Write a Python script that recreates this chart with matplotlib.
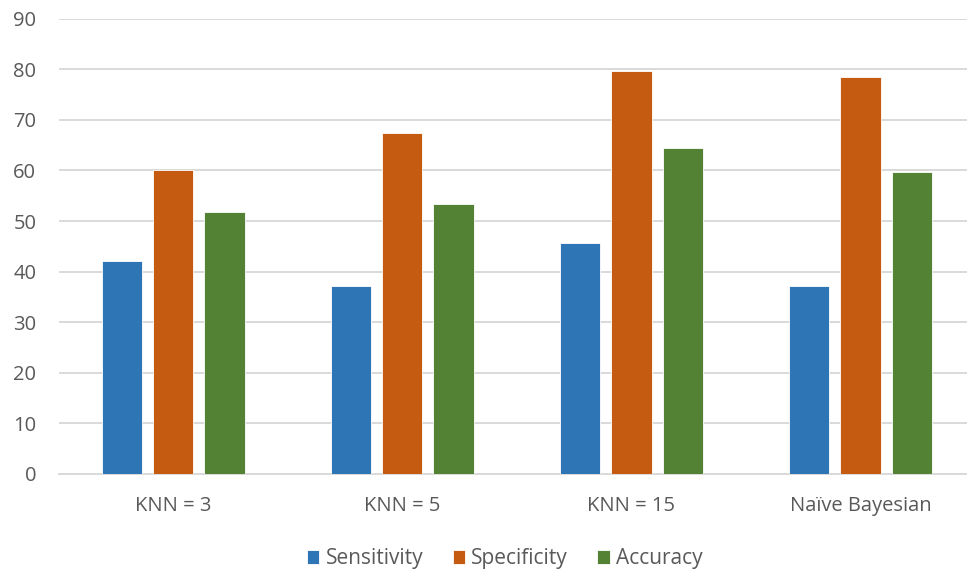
import numpy as np
import matplotlib
matplotlib.use("Agg")
import matplotlib.pyplot as plt

categories = ["KNN = 3", "KNN = 5", "KNN = 15", "Naïve Bayesian"]
sensitivity = [42.1, 37.2, 45.7, 37.2]
specificity = [60.1, 67.4, 79.6, 78.5]
accuracy = [51.7, 53.3, 64.5, 59.6]

series = [
    ("Sensitivity", sensitivity, "#2E75B6"),
    ("Specificity", specificity, "#C55A11"),
    ("Accuracy", accuracy, "#548235"),
]

plt.rcParams['font.family'] = ['Open Sans', 'DejaVu Sans']

fig = plt.figure(figsize=(9.67, 5.71), dpi=100)
# plot area runs slightly past the right edge, gridlines get clipped there
ax = fig.add_axes([0.0605, 0.1699, 0.948, 0.7974])

x = np.arange(len(categories))
width = 0.176
step = 0.224
for i, (name, vals, col) in enumerate(series):
    ax.bar(x + (i - 1) * step, vals, width, color=col, label=name,
           edgecolor="white", linewidth=0.6, zorder=3)

ax.set_xlim(-0.5, len(categories) - 0.5)
ax.set_ylim(0, 90)
ax.set_yticks(np.arange(0, 91, 10))
ax.set_xticks(x)
ax.set_xticklabels(categories)
ax.grid(axis="y", color="#D9D9D9", linewidth=1.4, zorder=0)
for s in ["top", "right", "left"]:
    ax.spines[s].set_visible(False)
ax.spines["bottom"].set_color("#D9D9D9")
ax.spines["bottom"].set_linewidth(1.4)
ax.tick_params(axis="both", length=0, labelsize=14.5, labelcolor="#595959")
ax.tick_params(axis="x", pad=16)
ax.tick_params(axis="y", pad=16)

fig.legend(loc="lower center", ncol=3, frameon=False, fontsize=15,
           bbox_to_anchor=(0.522, -0.03), handlelength=0.6, handleheight=0.6,
           columnspacing=1.4, handletextpad=0.3, labelcolor="#595959")

fig.savefig("out.png", dpi=100)
